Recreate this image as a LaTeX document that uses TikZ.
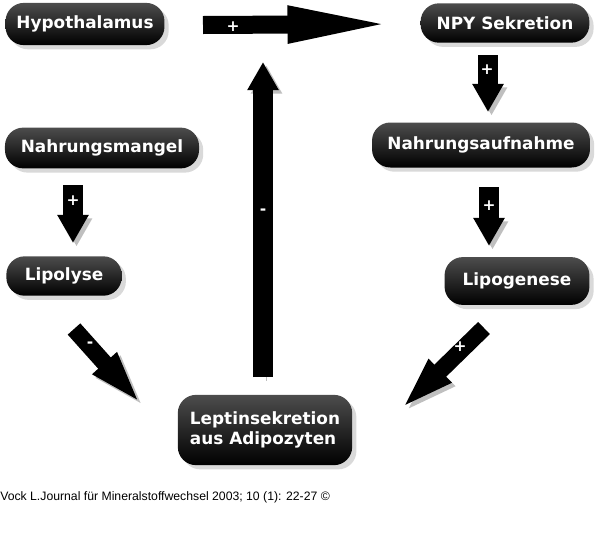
\documentclass[tikz,border=0pt]{standalone}
\usepackage{fontspec}
\setmainfont{Liberation Sans}
\newfontfamily\boxfont{DejaVu Sans}
\usetikzlibrary{arrows.meta,shadows}

\tikzset{
  pill/.style={rectangle, rounded corners=13pt, top color=black!70, middle color=black, bottom color=black,
    text=white, font=\boxfont\bfseries\fontsize{12}{14}\selectfont, inner sep=0pt,
    drop shadow={shadow xshift=3pt, shadow yshift=-3pt, opacity=0.3}},
  shade/.style={preaction={draw=black!25, transform canvas={shift={(2.5pt,-2.5pt)}}}},
  fat/.style={shade, line width=14pt, -{Triangle[width=21pt,length=20pt]}},
  slim/.style={shade, line width=12pt, -{Triangle[width=20pt,length=40pt]}},
  sign/.style={text=white, font=\boxfont\bfseries\fontsize{11}{12}\selectfont, inner sep=0pt}
}

\begin{document}
\begin{tikzpicture}[x=0.025cm,y=-0.025cm]
\useasboundingbox (0,0) rectangle (600,547);

% boxes
\node[pill, minimum width=113pt, minimum height=30pt] (hypo) at (85,24) {Hypothalamus};
\node[pill, minimum width=120pt, minimum height=28pt] (npy) at (505,23) {NPY Sekretion};
\node[pill, minimum width=155pt, minimum height=32pt] (aufnahme) at (481,145) {Nahrungsaufnahme};
\node[pill, minimum width=138pt, minimum height=29pt] (mangel) at (102,148) {Nahrungsmangel};
\node[pill, minimum width=82pt, minimum height=28pt] (lipolyse) at (64,276) {Lipolyse};
\node[pill, minimum width=103pt, minimum height=34pt] (lipogen) at (517,281) {Lipogenese};
\node[pill, minimum width=124pt, minimum height=50pt, align=left] (leptin) at (265,430) {Leptinsekretion\\aus Adipozyten};

% arrow ends
\coordinate (h1) at (203,25);
\coordinate (h2) at (400,24);
\coordinate (v1) at (263,377);
\coordinate (v2) at (263,62);
\coordinate (m1) at (73,185);
\coordinate (m2) at (73,243);
\coordinate (n1) at (488,55);
\coordinate (n2) at (488,112);
\coordinate (g1) at (489,187);
\coordinate (g2) at (489,246);
\coordinate (l1) at (74,329);
\coordinate (l2) at (142,405);
\coordinate (p1) at (484,328);
\coordinate (p2) at (400,410);

\draw[shade, line width=12.8pt, -{Triangle[width=23pt,length=80pt]}] (h1) -- (h2);
\draw[fat] (v1) -- (v2);
\draw[fat] (m1) -- (m2);
\draw[fat] (n1) -- (n2);
\draw[fat] (g1) -- (g2);
\draw[slim] (l1) -- (l2);
\draw[slim] (p1) -- (p2);

% signs
\node[sign] (s1) at (233,27) {+};
\node[sign] (s2) at (263,212) {-};
\node[sign] (s3) at (73,201) {+};
\node[sign] (s4) at (487,70) {+};
\node[sign] (s5) at (489,206) {+};
\node[sign] (s6) at (90,345) {-};
\node[sign] (s7) at (460,347) {+};

\node[anchor=base west, inner sep=0pt, font=\fontsize{8.7}{10}\selectfont] (src) at (0,500)
  {Vock L.Journal für Mineralstoffwechsel 2003; 10 (1): 22-27 ©};
\end{tikzpicture}
\end{document}
